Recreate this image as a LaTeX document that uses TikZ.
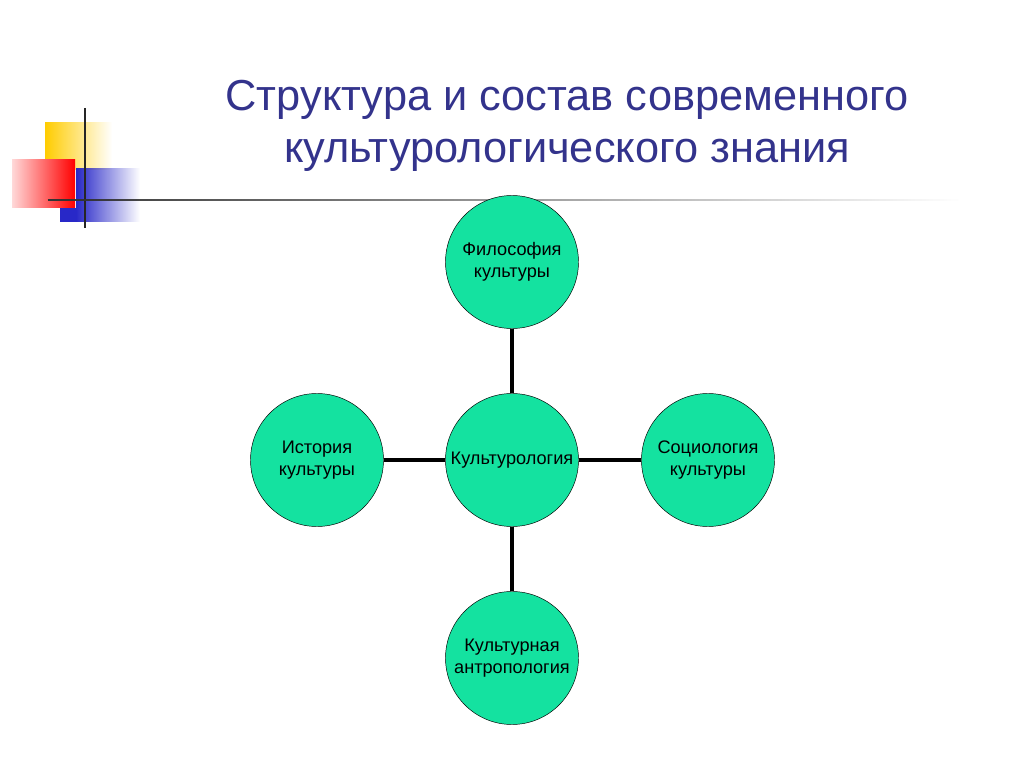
\documentclass[tikz,border=0pt]{standalone}
\usepackage{fontspec}
\setmainfont{Liberation Sans}
\usetikzlibrary{fadings}
\definecolor{mint}{RGB}{20,226,160}
\definecolor{titleblue}{RGB}{51,51,140}
\definecolor{decoyellow}{RGB}{255,204,0}
\definecolor{decoblue}{RGB}{40,40,200}
\tikzset{
  topic/.style={circle, draw=black, fill=mint, minimum size=133*0.03cm, inner sep=0pt,
    align=center, font=\fontsize{15.5}{19}\selectfont},
  link/.style={line width=3.2pt}
}
\begin{document}
\begin{tikzpicture}[x=0.03cm, y=-0.03cm]
  \useasboundingbox (0,0) rectangle (1024,767);
  % decoration
  \fill[decoyellow, path fading=east] (45,122) rectangle (112,170);
  \shade[left color=red!15, right color=red] (12,160) rectangle (75,208);
  \fill[decoblue, path fading=east] (76,168) rectangle (140,222);
  \fill[decoblue] (60,208) rectangle (77,222);
  \draw[line width=1.8pt, black!85] (85,108) -- (85,228);
  \draw[line width=1.8pt, black!80, path fading=east] (48,200) -- (960,200);
  % title
  \node[text=titleblue, font=\fontsize{37}{44}\selectfont, align=center] (title) at (567,126)
    {Структура и состав современного\\культурологического знания};
  % circles
  \node[topic] (phil) at (512,262) {Философия\\культуры};
  \node[topic] (kult) at (512,460) {};
  \node[topic] (hist) at (317,460) {История\\культуры};
  \node[topic] (soc)  at (708,460) {Социология\\культуры};
  \node[topic] (anth) at (512,658) {Культурная\\антропология};
  \draw[link] (phil) -- (kult);
  \draw[link] (hist) -- (kult);
  \draw[link] (soc) -- (kult);
  \draw[link] (anth) -- (kult);
  \node[font=\fontsize{15.5}{19}\selectfont] (kulttext) at (kult) {Культурология};
\end{tikzpicture}
\end{document}
